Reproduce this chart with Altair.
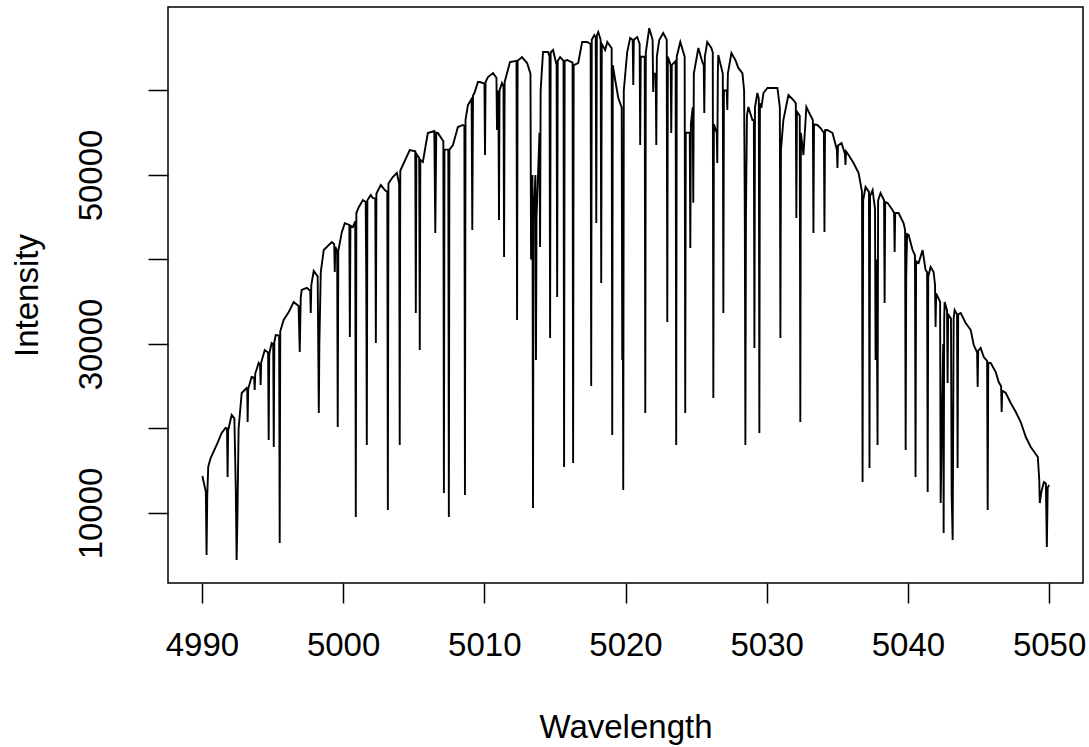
import altair as alt
import pandas as pd

# Spectrum: (wavelength, intensity) pairs, in segments
seg_4990 = [
    (4990.00, 14200), (4990.05, 14260), (4990.28, 12500), (4990.33, 5030), (4990.38, 12000),
    (4990.45, 15500), (4990.62, 16510), (4991.11, 18300), (4991.40, 19480), (4991.68, 20060),
    (4991.78, 20000), (4991.82, 14260), (4991.86, 19800), (4992.11, 21600), (4992.30, 21200),
    (4992.40, 13000), (4992.46, 4440), (4992.52, 10000), (4992.60, 20000), (4992.82, 24200),
    (4993.17, 24790), (4993.21, 24700), (4993.24, 20770), (4993.28, 24700), (4993.52, 26090),
    (4993.70, 26000), (4993.74, 24550), (4993.78, 26500), (4994.02, 27750), (4994.12, 27500),
    (4994.16, 25150), (4994.20, 27800), (4994.45, 29290), (4994.69, 29000), (4994.73, 18640),
    (4994.77, 28800), (4994.94, 30120), (4995.05, 30000), (4995.09, 17810), (4995.13, 30200),
    (4995.23, 31060), (4995.47, 31000), (4995.51, 6450), (4995.55, 31500), (4995.79, 32840),
    (4996.15, 33780), (4996.50, 34970), (4996.85, 34500), (4996.93, 29050), (4997.00, 35500),
    (4997.07, 36400), (4997.43, 36640), (4997.67, 36300), (4997.71, 33670), (4997.75, 37000),
    (4997.92, 38640), (4998.20, 38000), (4998.24, 30000), (4998.28, 21830), (4998.32, 30000),
    (4998.42, 38520), (4998.63, 41120), (4999.20, 42060), (4999.37, 41800), (4999.41, 38520),
    (4999.45, 41500), (4999.58, 41000), (4999.62, 20180), (4999.66, 41000), (4999.91, 43240),
]
seg_5000 = [
    (5000.12, 44300), (5000.44, 44100), (5000.48, 30830), (5000.52, 44000), (5000.69, 43840),
    (5000.86, 44500), (5000.90, 9520), (5000.94, 45500), (5001.11, 46190), (5001.40, 47030),
    (5001.60, 46800), (5001.64, 38000), (5001.68, 18050), (5001.72, 47000), (5001.96, 47630),
    (5002.10, 47280), (5002.28, 47200), (5002.32, 30120), (5002.36, 47800), (5002.67, 48810),
    (5002.96, 48220), (5003.13, 48000), (5003.17, 10350), (5003.21, 49000), (5003.52, 49760),
    (5003.81, 50240), (5003.97, 49000), (5004.01, 18050), (5004.05, 50500), (5004.30, 51420),
    (5004.72, 52950), (5005.11, 52800), (5005.15, 33670), (5005.19, 52500), (5005.39, 52000),
    (5005.43, 29290), (5005.47, 51800), (5005.65, 51540), (5006.00, 54970), (5006.46, 55200),
    (5006.53, 43130), (5006.60, 55000), (5006.71, 54970), (5007.10, 54000), (5007.14, 12370),
    (5007.18, 53000), (5007.45, 53000), (5007.49, 9520), (5007.53, 53000), (5007.78, 53550),
    (5008.13, 55680), (5008.49, 55920), (5008.59, 55800), (5008.63, 12130), (5008.67, 56500),
    (5008.84, 58280), (5009.10, 59000), (5009.15, 43490), (5009.20, 59400), (5009.30, 59700),
    (5009.55, 61000), (5009.69, 61000),
]
seg_5010 = [
    (5010.01, 60800), (5010.05, 52360), (5010.09, 61000), (5010.26, 61590), (5010.62, 62060),
    (5010.86, 61500), (5010.90, 55330), (5010.94, 60000), (5011.00, 59000), (5011.04, 44680),
    (5011.08, 60000), (5011.25, 60890), (5011.36, 60500), (5011.40, 40290), (5011.44, 61000),
    (5011.82, 63370), (5012.28, 63500), (5012.32, 32840), (5012.36, 63500), (5012.67, 63960),
    (5013.03, 63250), (5013.27, 62000), (5013.31, 40000), (5013.41, 50000), (5013.45, 10590),
    (5013.49, 45000), (5013.62, 50000), (5013.66, 28110), (5013.70, 45000), (5013.91, 55000),
    (5013.95, 41480), (5013.99, 60000), (5014.16, 64550), (5014.52, 64550), (5014.62, 64000),
    (5014.66, 30710), (5014.70, 64500), (5014.87, 64790), (5015.12, 63000), (5015.16, 35560),
    (5015.20, 63500), (5015.37, 63960), (5015.61, 63500), (5015.65, 15440), (5015.69, 63500),
    (5015.87, 63610), (5016.25, 63300), (5016.29, 15920), (5016.33, 63000), (5016.65, 63250),
    (5016.93, 65740), (5017.28, 65740), (5017.53, 65500), (5017.57, 25030), (5017.61, 66000),
    (5017.79, 66560), (5017.89, 66300), (5017.93, 44320), (5017.97, 66500), (5018.07, 66920),
    (5018.24, 66000), (5018.28, 37220), (5018.32, 65500), (5018.56, 64790), (5018.71, 65740),
    (5019.02, 65000), (5019.06, 19230), (5019.10, 63000), (5019.27, 61240), (5019.49, 59110),
    (5019.73, 58000), (5019.77, 28110), (5019.80, 45000), (5019.84, 12720), (5019.88, 60000),
]
seg_5020 = [
    (5020.12, 64550), (5020.33, 66210), (5020.51, 66000), (5020.55, 60650), (5020.59, 66000),
    (5020.83, 66330), (5021.00, 65500), (5021.04, 53550), (5021.08, 64000), (5021.36, 64000),
    (5021.40, 21830), (5021.44, 64500), (5021.68, 67370), (5021.92, 66000), (5021.96, 59820),
    (5022.00, 62000), (5022.14, 62000), (5022.18, 53550), (5022.22, 64000), (5022.39, 65980),
    (5022.67, 66800), (5022.92, 66000), (5022.96, 32600), (5023.00, 64000), (5023.20, 63000),
    (5023.24, 54970), (5023.28, 63000), (5023.55, 63500), (5023.59, 18050), (5023.63, 64000),
    (5023.88, 65740), (5024.19, 64000), (5024.23, 21830), (5024.27, 55000), (5024.55, 55000),
    (5024.59, 41360), (5024.63, 56000), (5024.76, 58000), (5024.80, 46710), (5024.84, 62000),
    (5025.16, 65030), (5025.44, 63370), (5025.54, 63000), (5025.58, 57330), (5025.62, 64000),
    (5025.79, 65740), (5026.08, 65030), (5026.18, 64500), (5026.22, 23610), (5026.26, 56000),
    (5026.46, 55000), (5026.50, 51420), (5026.54, 62000), (5026.57, 64200), (5026.89, 62000),
    (5026.93, 33670), (5026.97, 60000), (5027.17, 60000), (5027.21, 57690), (5027.25, 62000),
    (5027.50, 64440), (5027.78, 63610), (5027.99, 62670), (5028.28, 62060), (5028.40, 60000),
    (5028.45, 45000), (5028.49, 18050), (5028.53, 45000), (5028.60, 57000), (5028.70, 58050),
    (5028.99, 56500), (5029.09, 56500), (5029.13, 29530), (5029.17, 58000), (5029.34, 59700),
    (5029.44, 59000), (5029.48, 19470), (5029.52, 58500), (5029.62, 57930), (5029.77, 59700),
]
seg_5030 = [
    (5030.05, 60300), (5030.76, 60300), (5030.93, 58000), (5030.97, 30710), (5031.01, 53000),
    (5031.18, 56500), (5031.54, 59470), (5031.89, 58870), (5032.06, 58500), (5032.10, 44910),
    (5032.14, 57500), (5032.34, 57000), (5032.38, 20770), (5032.42, 55000), (5032.60, 52360),
    (5032.81, 58050), (5033.02, 57330), (5033.27, 56500), (5033.31, 43130), (5033.35, 56000),
    (5033.59, 55920), (5033.81, 55560), (5034.05, 55000), (5034.09, 43250), (5034.13, 55300),
    (5034.30, 55330), (5034.66, 54970), (5034.97, 53000), (5035.01, 50830), (5035.05, 53500),
    (5035.30, 53790), (5035.54, 52500), (5035.58, 51180), (5035.62, 52800), (5035.80, 52360),
    (5036.15, 51420), (5036.51, 50240), (5036.75, 48000), (5036.79, 13670), (5036.83, 47000),
    (5037.00, 48580), (5037.24, 48000), (5037.28, 15320), (5037.32, 47500), (5037.50, 48220),
    (5037.67, 46000), (5037.71, 28110), (5037.78, 40000), (5037.85, 18050), (5037.89, 47000),
    (5038.06, 47870), (5038.31, 47000), (5038.35, 34850), (5038.39, 46800), (5038.56, 46680),
    (5038.91, 45860), (5039.02, 45500), (5039.06, 40880), (5039.10, 45500), (5039.34, 45500),
    (5039.69, 44320), (5039.80, 43500), (5039.84, 17460), (5039.88, 38000), (5039.94, 43000),
]
seg_5040 = [
    (5040.05, 42900), (5040.33, 41120), (5040.50, 40500), (5040.54, 14260), (5040.58, 39800),
    (5040.76, 39580), (5041.04, 41120), (5041.25, 38760), (5041.36, 38500), (5041.40, 12480),
    (5041.44, 38000), (5041.61, 39110), (5041.82, 38520), (5041.92, 37000), (5041.96, 32010),
    (5042.00, 36000), (5042.28, 35000), (5042.32, 11180), (5042.40, 20000), (5042.50, 30000),
    (5042.53, 7630), (5042.57, 33000), (5042.60, 34970), (5042.77, 34000), (5042.81, 25390),
    (5042.85, 33500), (5043.05, 33000), (5043.10, 12000), (5043.17, 6800), (5043.24, 33000),
    (5043.31, 34020), (5043.48, 33500), (5043.52, 15320), (5043.56, 33500), (5043.74, 33670),
    (5044.09, 32480), (5044.45, 31650), (5044.66, 29880), (5044.90, 29000), (5044.94, 24910),
    (5044.98, 29200), (5045.15, 29530), (5045.37, 28460), (5045.61, 28000), (5045.65, 10350),
    (5045.69, 27800), (5045.87, 27750), (5046.22, 26680), (5046.43, 25500), (5046.60, 25000),
    (5046.64, 21950), (5046.68, 24500), (5046.93, 24200), (5047.28, 23020), (5047.64, 21950),
    (5047.99, 20770), (5048.35, 18990), (5048.70, 17810), (5049.20, 16630), (5049.30, 14000),
    (5049.34, 11180), (5049.45, 12500), (5049.63, 13670), (5049.77, 13500), (5049.84, 5980),
    (5049.90, 13000), (5050.00, 13310),
]

x_ticks = [4990, 5000, 5010, 5020, 5030, 5040, 5050]
y_ticks = [10000, 20000, 30000, 40000, 50000, 60000]
y_labelled = [10000, 30000, 50000]

points = seg_4990 + seg_5000 + seg_5010 + seg_5020 + seg_5030 + seg_5040
df = pd.DataFrame(points, columns=["Wavelength", "Intensity"])

FONT = "Liberation Sans"

label_test = " || ".join(f"datum.value == {v}" for v in y_labelled)

chart = (
    alt.Chart(df)
    .mark_line(color="black", strokeWidth=1.9, clip=True)
    .encode(
        x=alt.X(
            "Wavelength:Q",
            scale=alt.Scale(domain=[4987.6, 5052.4], nice=False, zero=False),
            axis=alt.Axis(
                values=x_ticks,
                format="d",
                title="Wavelength",
                labelPadding=26,
                titlePadding=49,
            ),
        ),
        y=alt.Y(
            "Intensity:Q",
            scale=alt.Scale(domain=[1716, 69880], nice=False, zero=False),
            axis=alt.Axis(
                values=y_ticks,
                format="d",
                labelExpr=f"({label_test}) ? datum.label : ''",
                labelAngle=270,
                labelAlign="center",
                labelBaseline="bottom",
                labelPadding=40,
                title="Intensity",
                titlePadding=31,
            ),
        ),
    )
    .properties(
        width=915,
        height=576,
        background="white",
        autosize=alt.AutoSizeParams(type="none"),
        padding={"left": 168, "top": 7, "right": 6, "bottom": 164},
    )
    .configure_view(stroke="black", strokeWidth=1.5)
    .configure_axis(
        domain=False,
        grid=False,
        ticks=True,
        tickColor="black",
        tickWidth=1.5,
        tickSize=20,
        labelFont=FONT,
        labelFontSize=33,
        labelColor="black",
        titleFont=FONT,
        titleFontSize=33,
        titleFontWeight="normal",
        titleColor="black",
        labelOverlap=False,
        labelFlush=False,
    )
)

chart.save("out.html", embed_options={"renderer": "svg", "actions": False})
